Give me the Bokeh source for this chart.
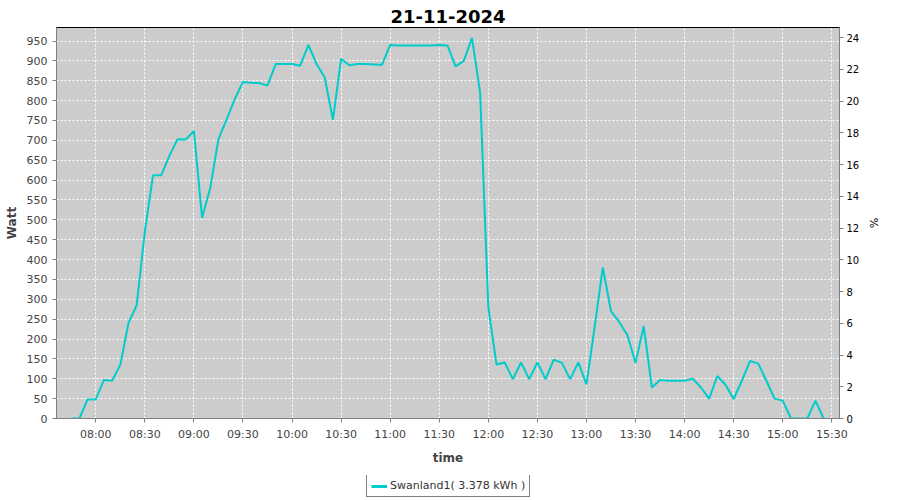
from bokeh.plotting import figure
from bokeh.layouts import column
from bokeh.models import Range1d, LinearAxis, FixedTicker, Legend, LegendItem, ColumnDataSource
from bokeh.embed import file_html
from bokeh.resources import INLINE

# ---- data ----
times = ["07:45", "07:50", "07:55", "08:00", "08:05", "08:10", "08:15", "08:20", "08:25", "08:30",
         "08:35", "08:40", "08:45", "08:50", "08:55", "09:00", "09:05", "09:10", "09:15", "09:20",
         "09:25", "09:30", "09:35", "09:40", "09:45", "09:50", "09:55", "10:00", "10:05", "10:10",
         "10:15", "10:20", "10:25", "10:30", "10:35", "10:40", "10:45", "10:50", "10:55", "11:00",
         "11:05", "11:10", "11:15", "11:20", "11:25", "11:30", "11:35", "11:40", "11:45", "11:50",
         "11:55", "12:00", "12:05", "12:10", "12:15", "12:20", "12:25", "12:30", "12:35", "12:40",
         "12:45", "12:50", "12:55", "13:00", "13:05", "13:10", "13:15", "13:20", "13:25", "13:30",
         "13:35", "13:40", "13:45", "13:50", "13:55", "14:00", "14:05", "14:10", "14:15", "14:20",
         "14:25", "14:30", "14:35", "14:40", "14:45", "14:50", "14:55", "15:00", "15:05", "15:10",
         "15:15", "15:20", "15:25"]
watts = [0, 0, 48, 48, 97, 95, 135, 240, 285, 470,
         612, 612, 661, 703, 702, 724, 505, 580, 703, 753,
         804, 847, 845, 844, 838, 892, 892, 892, 888, 940,
         892, 858, 752, 905, 889, 892, 892, 891, 890, 940,
         939, 939, 939, 939, 939, 940, 939, 886, 900, 958,
         820, 280, 136, 141, 99, 141, 99, 141, 99, 148,
         140, 99, 141, 86, 230, 380, 270, 243, 210, 140,
         232, 78, 97, 95, 95, 95, 100, 78, 50, 107,
         85, 49, 95, 145, 138, 95, 50, 45, 0, 0,
         0, 45, 0]

x_tick_labels = ["08:00", "08:30", "09:00", "09:30", "10:00", "10:30", "11:00", "11:30",
                 "12:00", "12:30", "13:00", "13:30", "14:00", "14:30", "15:00", "15:30"]
watt_ticks = list(range(0, 951, 50))
pct_ticks = list(range(0, 25, 2))

title_text = "21-11-2024"
series_label = "Swanland1( 3.378 kWh )"


def to_min(s):
    h, m = s.split(":")
    return int(h) * 60 + int(m)


xs = [to_min(t) for t in times]
x_tick_pos = [to_min(t) for t in x_tick_labels]

src = ColumnDataSource(dict(x=xs, y=watts))

GREY_TXT = "#444444"
AXIS_GREY = "#808080"
FONT = "DejaVu Sans"
LINE_COLOR = "#00CCCC"

p = figure(frame_width=783, frame_height=391, output_backend="svg", toolbar_location=None,
           x_range=Range1d(456, 934.7), y_range=Range1d(0, 984),
           min_border_left=56, min_border_right=45, min_border_top=27, min_border_bottom=57,
           title=title_text)

p.title.text_font = FONT
p.title.text_font_size = "18px"
p.title.text_font_style = "bold"
p.title.text_color = "#000000"
p.title.align = "center"
p.title.offset = -5

p.background_fill_color = "#CCCCCC"
p.border_fill_color = "#FFFFFF"
p.outline_line_color = "#000000"
p.outline_line_width = 1

p.extra_y_ranges = {"pct": Range1d(0, 24.63)}

# x axis
xa = p.xaxis[0]
xa.ticker = FixedTicker(ticks=x_tick_pos)
xa.major_label_overrides = {pos: lab for pos, lab in zip(x_tick_pos, x_tick_labels)}
xa.axis_label = "time"

# left axis
ya = p.yaxis[0]
ya.ticker = FixedTicker(ticks=watt_ticks)
ya.axis_label = "Watt"

for ax in (xa, ya):
    ax.axis_line_color = AXIS_GREY
    ax.major_tick_line_color = AXIS_GREY
    ax.major_tick_out = 4
    ax.major_tick_in = 0
    ax.minor_tick_line_color = None
    ax.major_label_text_font = FONT
    ax.major_label_text_font_size = "11px"
    ax.major_label_text_color = GREY_TXT
    ax.axis_label_text_font = FONT
    ax.axis_label_text_font_size = "12px"
    ax.axis_label_text_font_style = "bold"
    ax.axis_label_text_color = GREY_TXT

xa.axis_label_standoff = 7

# right axis
ra = LinearAxis(y_range_name="pct", ticker=FixedTicker(ticks=pct_ticks), axis_label="%")
ra.axis_line_color = AXIS_GREY
ra.major_tick_line_color = AXIS_GREY
ra.major_tick_out = 4
ra.major_tick_in = 0
ra.minor_tick_line_color = None
ra.major_label_text_font = FONT
ra.major_label_text_font_size = "10px"
ra.major_label_text_color = "#000000"
ra.major_label_standoff = 3
ra.axis_label_text_font = FONT
ra.axis_label_text_font_size = "11px"
ra.axis_label_text_font_style = "normal"
ra.axis_label_text_color = "#000000"
p.add_layout(ra, "right")

# grids
p.xgrid.ticker = FixedTicker(ticks=x_tick_pos)
p.ygrid.ticker = FixedTicker(ticks=watt_ticks)
for g in (p.xgrid[0], p.ygrid[0]):
    g.grid_line_color = "#FFFFFF"
    g.grid_line_dash = "2 2"
    g.grid_line_width = 1

r = p.line("x", "y", source=src, line_color=LINE_COLOR, line_width=2)

# ---- legend strip below the chart ----
lg = figure(width=884, height=24, output_backend="svg", toolbar_location=None,
            x_range=Range1d(0, 1), y_range=Range1d(0, 1),
            min_border=0, min_border_left=0, min_border_right=0,
            min_border_top=0, min_border_bottom=0)
lg.axis.visible = False
lg.grid.visible = False
lg.outline_line_color = None
lg.background_fill_color = "#FFFFFF"
lg.border_fill_color = "#FFFFFF"
# same series; it lies outside this strip's ranges, only its legend swatch shows
lr = lg.line("x", "y", source=src, line_color=LINE_COLOR, line_width=3)

legend = Legend(items=[LegendItem(label=series_label, renderers=[lr])],
                location=(310, 2), orientation="horizontal")
legend.label_text_font = FONT
legend.label_text_font_size = "11px"
legend.label_text_color = "#333333"
legend.border_line_color = "#000000"
legend.border_line_width = 1
legend.background_fill_color = "#FFFFFF"
legend.background_fill_alpha = 1
legend.glyph_width = 16
legend.glyph_height = 12
legend.padding = 4
legend.spacing = 0
legend.label_standoff = 3
legend.label_height = 12
legend.margin = 0
lg.add_layout(legend, "center")

layout = column(p, lg, spacing=0)

open("out.html", "w").write(file_html(layout, INLINE))
